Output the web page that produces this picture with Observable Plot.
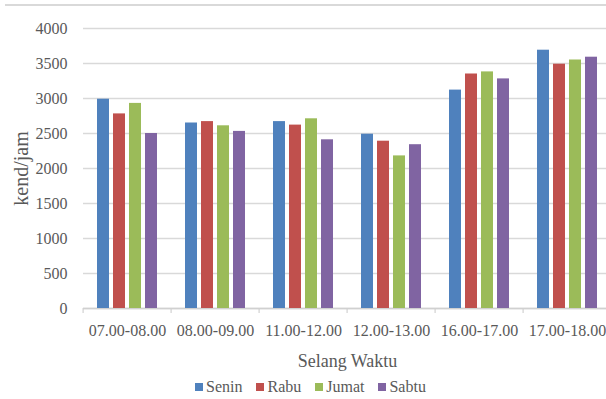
<!DOCTYPE html>
<html>
<head>
<meta charset="utf-8">
<script src="https://cdn.jsdelivr.net/npm/d3@7"></script>
<script src="https://cdn.jsdelivr.net/npm/@observablehq/plot@0.6"></script>
<style>
  html, body { margin: 0; padding: 0; background: #fff; overflow: hidden; }
  #wrap { position: relative; width: 606px; height: 399px; overflow: hidden; }
  #border { position: absolute; top: 4px; left: 5px; right: 0; border-top: 2px solid #d9d9d9; }
  #chart { position: absolute; top: 0; left: 0; width: 613px; }
  #chart svg { max-width: none !important; }
  #chart svg, #chart svg text { font-family: "Liberation Serif", "Times New Roman", serif !important; }
  #legend { position: absolute; top: 373px; left: 195px; }
  #legend, #legend * { font-family: "Liberation Serif", "Times New Roman", serif !important; font-size: 16px !important; color: #595959 !important; }
  #legend > div { margin: 0 !important; min-height: 27px !important; }
  #legend > div > span, #legend > div > div { margin-right: 14px !important; }
  #legend svg { margin-right: 3px !important; }
</style>
</head>
<body>
<div id="wrap">
  <div id="border"></div>
  <div id="chart"></div>
  <div id="legend"></div>
</div>
<script>
// Time intervals (x groups) and survey days (series)
const times = ["07.00-08.00", "08.00-09.00", "11.00-12.00", "12.00-13.00", "16.00-17.00", "17.00-18.00"];
const days = ["Senin", "Rabu", "Jumat", "Sabtu"];

// Traffic volume (kend/jam) per interval, one array per day
const senin = [2990, 2650, 2670, 2490, 3120, 3690];
const rabu  = [2780, 2670, 2620, 2390, 3350, 3490];
const jumat = [2930, 2610, 2710, 2180, 3380, 3550];
const sabtu = [2500, 2530, 2410, 2340, 3280, 3590];

const yTicks = [0, 500, 1000, 1500, 2000, 2500, 3000, 3500, 4000];
const colors = ["#4f81bd", "#c0504d", "#9bbb59", "#8064a2"];

const series = [senin, rabu, jumat, sabtu];
const rows = [];
times.forEach((t, i) => days.forEach((d, j) => rows.push({time: t, day: d, value: series[j][i]})));

const W = 613, H = 372, ML = 80, MR = 0, MT = 28, MB = 64;
const half = (W - ML - MR) / times.length / 2;
const ink = "#595959";
const font = "'Liberation Serif', 'Times New Roman', serif";

const chart = Plot.plot({
  width: W,
  height: H,
  marginLeft: ML,
  marginRight: MR,
  marginTop: MT,
  marginBottom: MB,
  style: {fontFamily: font, fontSize: "16px", color: ink, background: "transparent", overflow: "visible"},
  fx: {domain: times, padding: 0},
  x: {domain: days, paddingInner: 0.26, paddingOuter: 0.8, axis: null},
  y: {domain: [0, 4000]},
  color: {domain: days, range: colors},
  marks: [
    Plot.gridY(yTicks, {stroke: "#d9d9d9", strokeOpacity: 1, strokeWidth: 1.5}),
    Plot.axisY(yTicks, {tickSize: 0, tickPadding: 16, tickFormat: d3.format("d"), label: null, fontSize: 16, fill: ink}),
    Plot.axisY([], {tickSize: 0, label: "kend/jam", labelAnchor: "center", labelArrow: false, labelOffset: 70, fontSize: 20, fill: ink}),
    Plot.axisFx({anchor: "bottom", tickSize: 0, tickPadding: 16, label: null, fontSize: 16, fill: ink}),
    Plot.axisFx([], {anchor: "bottom", tickSize: 0, label: "Selang Waktu", labelAnchor: "center", labelArrow: false, labelOffset: 58, fontSize: 18, fill: ink}),
    Plot.axisFx({anchor: "bottom", text: null, tickSize: 5, dx: -half, label: null, stroke: "#c8c8c8", strokeOpacity: 1}),
    Plot.ruleY([0], {stroke: "#d0d0d0", strokeWidth: 1.5}),
    Plot.barY(rows, {fx: "time", x: "day", y: "value", fill: "day", inset: 0})
  ]
});
document.getElementById("chart").append(chart);

const legend = chart.legend("color", {
  className: "lg",
  swatchSize: 8,
  style: {fontFamily: font, fontSize: "16px", color: ink}
});
legend.style.fontFamily = font;
legend.querySelectorAll("*").forEach((el) => { el.style.fontFamily = font; });
document.getElementById("legend").append(legend);
</script>
</body>
</html>
